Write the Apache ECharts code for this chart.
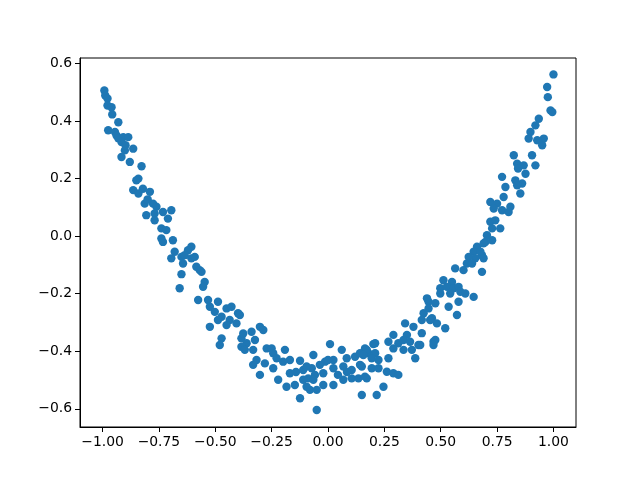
<!DOCTYPE html>
<html>
<head>
<meta charset="utf-8">
<script src="https://cdn.jsdelivr.net/npm/echarts@6/dist/echarts.min.js"></script>
<style>html,body{margin:0;padding:0;background:#fff}#c{width:640px;height:480px}</style>
</head>
<body>
<div id="c"></div>
<script>
const xValues = [
-0.992,-0.988,-0.978,-0.978,-0.960,-0.957,-0.930,-0.975,-0.945,-0.938,-0.930,-0.908,-0.886,-0.916,-0.901,-0.864,-0.916,-0.879,-0.827,-0.841,-0.864,-0.821,-0.790,-0.841,-0.898,
-0.850,-0.813,-0.776,-0.761,-0.806,-0.769,-0.732,-0.695,-0.710,-0.769,-0.739,-0.717,-0.739,-0.688,-0.732,-0.606,-0.621,-0.680,-0.695,-0.650,-0.606,-0.643,-0.584,-0.569,-0.650,-0.547,-0.658,-0.800,
-0.591,-0.636,-0.561,-0.554,-0.576,-0.532,-0.488,-0.524,-0.502,-0.450,-0.428,-0.399,-0.472,-0.488,-0.436,-0.524,-0.450,-0.406,-0.339,-0.302,-0.472,-0.480,-0.384,-0.361,-0.384,-0.324,-0.332,-0.317,-0.332,
-0.391,-0.287,-0.376,-0.369,-0.272,-0.250,-0.243,-0.191,-0.228,-0.169,-0.199,-0.124,-0.280,-0.243,-0.302,-0.221,-0.169,-0.110,-0.065,-0.072,-0.058,-0.088,-0.184,-0.147,-0.110,-0.080,-0.124,-0.050,-0.050,
0.009,0.061,0.201,0.164,-0.095,-0.013,0.024,0.083,0.120,0.142,0.179,0.209,-0.021,0.024,0.068,0.105,0.150,0.194,-0.065,-0.021,0.024,0.068,0.105,0.135,0.172,-0.095,0.150,0.216,
0.446,0.476,0.424,0.461,0.342,0.379,0.416,0.290,0.350,0.268,0.312,0.335,0.364,0.401,0.468,0.290,0.335,0.372,0.209,0.172,0.157,0.194,0.224,0.268,0.387,0.142,0.224,0.261,0.290,0.312,0.164,0.246,
0.705,0.728,0.698,0.661,0.646,0.683,0.653,0.624,0.616,0.639,0.564,0.601,0.683,0.512,0.550,0.498,0.528,0.557,0.579,0.587,0.498,0.542,0.609,0.646,0.439,0.579,0.535,0.572,0.446,0.416,0.453,0.483,0.520,0.476,0.468,0.409,
0.824,0.905,0.839,0.868,0.920,0.876,0.772,0.831,0.861,0.839,0.853,0.787,0.779,0.720,0.750,0.735,0.772,0.809,0.801,0.720,0.742,0.764,0.728,0.690,0.676,0.690,
1.000,0.972,0.975,0.987,0.995,0.935,0.920,0.898,0.890,0.957,0.928,0.950,0.843,
0.000,-0.036,0.044,0.084,-0.142
];
const yValues = [
0.506,0.489,0.478,0.454,0.448,0.423,0.396,0.368,0.362,0.350,0.340,0.344,0.344,0.327,0.298,0.304,0.275,0.258,0.243,0.200,0.160,0.165,0.154,0.148,0.316,
0.194,0.113,0.113,0.102,0.073,0.079,0.084,0.090,0.061,0.055,0.027,0.021,-0.008,-0.014,-0.020,-0.037,-0.049,-0.054,-0.077,-0.072,-0.077,-0.095,-0.106,-0.118,-0.132,-0.159,-0.181,0.128,
-0.072,-0.066,-0.124,-0.176,-0.222,-0.222,-0.228,-0.245,-0.263,-0.251,-0.245,-0.268,-0.280,-0.291,-0.291,-0.315,-0.309,-0.303,-0.332,-0.315,-0.355,-0.378,-0.355,-0.372,-0.384,-0.361,-0.395,-0.430,-0.447,
-0.274,-0.326,-0.338,-0.395,-0.390,-0.390,-0.407,-0.395,-0.424,-0.430,-0.436,-0.433,-0.442,-0.459,-0.482,-0.499,-0.476,-0.465,-0.413,-0.459,-0.482,-0.494,-0.523,-0.517,-0.499,-0.534,-0.563,-0.534,-0.604,
-0.375,-0.395,-0.375,-0.390,-0.453,-0.436,-0.430,-0.424,-0.419,-0.407,-0.407,-0.407,-0.476,-0.459,-0.453,-0.465,-0.453,-0.459,-0.499,-0.517,-0.517,-0.499,-0.494,-0.494,-0.494,-0.523,-0.552,-0.552,
-0.228,-0.233,-0.268,-0.285,-0.303,-0.315,-0.337,-0.343,-0.343,-0.367,-0.372,-0.361,-0.367,-0.378,-0.367,-0.390,-0.395,-0.395,-0.372,-0.395,-0.413,-0.424,-0.430,-0.424,-0.424,-0.447,-0.459,-0.471,-0.476,-0.482,-0.488,-0.523,
0.003,-0.014,-0.020,-0.037,-0.054,-0.066,-0.077,-0.072,-0.095,-0.095,-0.112,-0.118,-0.124,-0.153,-0.159,-0.181,-0.176,-0.181,-0.176,-0.193,-0.199,-0.199,-0.199,-0.211,-0.216,-0.228,-0.245,-0.274,-0.251,-0.291,-0.291,-0.303,-0.320,-0.361,-0.378,-0.378,
0.281,0.281,0.252,0.246,0.246,0.217,0.206,0.194,0.183,0.177,0.148,0.171,0.136,0.119,0.113,0.096,0.090,0.102,0.084,0.050,0.055,0.027,0.027,-0.025,-0.054,-0.077,
0.562,0.518,0.483,0.437,0.431,0.408,0.385,0.362,0.339,0.339,0.333,0.316,0.235,
-0.430,-0.447,-0.482,-0.472,-0.472
];
const xTicks = [-1.00,-0.75,-0.50,-0.25,0.00,0.25,0.50,0.75,1.00];
const yTicks = [-0.6,-0.4,-0.2,0.0,0.2,0.4,0.6];

const points = xValues.map((x, i) => [x, yValues[i]]);
const fmt = d => v => v.toFixed(d).replace('-', '\u2212');
const font = 'DejaVu Sans';

const chart = echarts.init(document.getElementById('c'), null, {renderer: 'canvas'});
chart.setOption({
  animation: false,
  backgroundColor: '#fff',
  grid: {left: 80, right: 64, top: 58, bottom: 53, show: true, borderColor: '#000', borderWidth: 1, containLabel: false},
  xAxis: {
    type: 'value', min: -1.1, max: 1.1,
    axisLine: {show: true, onZero: false, lineStyle: {color: '#000', width: 1}},
    axisTick: {show: true, length: 5, inside: false, customValues: xTicks, lineStyle: {color: '#000'}},
    axisLabel: {show: true, margin: 8, customValues: xTicks, formatter: fmt(2), color: '#000', fontFamily: font, fontSize: 13.9},
    splitLine: {show: false}
  },
  yAxis: {
    type: 'value', min: -0.663, max: 0.619,
    axisLine: {show: true, onZero: false, lineStyle: {color: '#000', width: 1}},
    axisTick: {show: true, length: 5, inside: false, customValues: yTicks, lineStyle: {color: '#000'}},
    axisLabel: {show: true, margin: 8, customValues: yTicks, formatter: fmt(1), color: '#000', fontFamily: font, fontSize: 13.9},
    splitLine: {show: false}
  },
  series: [{
    type: 'scatter',
    data: points,
    symbol: 'circle',
    symbolSize: 8.4,
    itemStyle: {color: '#1f77b4', opacity: 1},
    emphasis: {disabled: true}
  }]
});
</script>
</body>
</html>
